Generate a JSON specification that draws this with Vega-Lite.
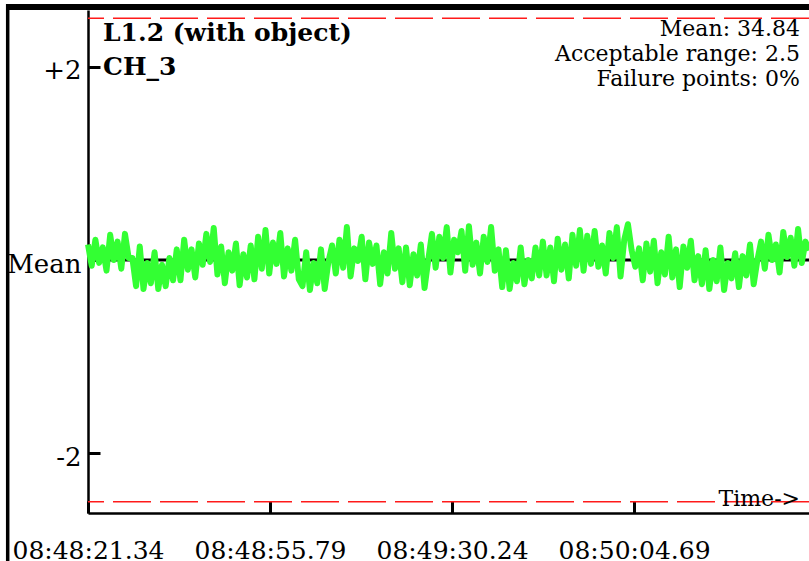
{
  "$schema": "https://vega.github.io/schema/vega-lite/v6.json",
  "width": 721,
  "height": 503,
  "autosize": {"type": "none"},
  "padding": {"left": 88, "top": 10, "right": 0, "bottom": 48},
  "background": "white",
  "config": {
    "view": {"stroke": null},
    "font": "DejaVu Serif",
    "text": {"font": "DejaVu Serif", "color": "black"},
    "axis": {
      "grid": false,
      "labelFont": "DejaVu Serif", "labelFontSize": 25, "labelColor": "black",
      "labelFlush": false, "labelOverlap": false,
      "tickSize": -12, "tickWidth": 3, "tickColor": "black",
      "domainColor": "black", "domainWidth": 2.5
    }
  },
  "datasets": {
    "signal": [
      {"s":0,"v":0.16},{"s":0.7,"v":-0.06},{"s":1.4,"v":0.21},{"s":2.1,"v":-0.03},{"s":2.8,"v":0.13},{"s":3.5,"v":-0.11},{"s":4.2,"v":0.26},{"s":4.9,"v":0.00},{"s":5.6,"v":0.19},{"s":6.3,"v":-0.09},
      {"s":7,"v":0.27},{"s":7.7,"v":0.02},{"s":8.4,"v":0.02},{"s":9.1,"v":-0.27},{"s":9.8,"v":0.14},{"s":10.5,"v":-0.30},{"s":11.2,"v":-0.03},{"s":11.9,"v":-0.24},{"s":12.6,"v":0.08},{"s":13.3,"v":-0.30},
      {"s":14,"v":-0.05},{"s":14.7,"v":-0.27},{"s":15.4,"v":0.02},{"s":16.1,"v":-0.21},{"s":16.8,"v":0.11},{"s":17.5,"v":-0.21},{"s":18.2,"v":0.21},{"s":18.9,"v":-0.10},{"s":19.6,"v":0.11},{"s":20.3,"v":-0.18},
      {"s":21,"v":0.17},{"s":21.7,"v":-0.05},{"s":22.4,"v":0.27},{"s":23.1,"v":-0.02},{"s":23.8,"v":0.33},{"s":24.5,"v":-0.15},{"s":25.2,"v":0.14},{"s":25.9,"v":-0.24},{"s":26.6,"v":0.08},{"s":27.3,"v":-0.11},
      {"s":28,"v":0.17},{"s":28.7,"v":-0.26},{"s":29.4,"v":0.06},{"s":30.1,"v":-0.18},{"s":30.8,"v":0.15},{"s":31.5,"v":-0.20},{"s":32.2,"v":0.24},{"s":32.9,"v":-0.09},{"s":33.6,"v":0.31},{"s":34.3,"v":-0.14},
      {"s":35,"v":0.18},{"s":35.7,"v":-0.04},{"s":36.4,"v":0.28},{"s":37.1,"v":-0.17},{"s":37.8,"v":0.12},{"s":38.5,"v":-0.11},{"s":39.2,"v":0.21},{"s":39.9,"v":-0.20},{"s":40.6,"v":-0.27},{"s":41.3,"v":0.08},
      {"s":42,"v":-0.31},{"s":42.7,"v":-0.03},{"s":43.4,"v":-0.24},{"s":44.1,"v":0.11},{"s":44.8,"v":-0.30},{"s":45.5,"v":-0.02},{"s":46.2,"v":0.15},{"s":46.9,"v":-0.14},{"s":47.6,"v":0.21},{"s":48.3,"v":-0.08},
      {"s":49,"v":0.34},{"s":49.7,"v":-0.17},{"s":50.4,"v":0.12},{"s":51.1,"v":-0.01},{"s":51.8,"v":0.24},{"s":52.5,"v":-0.20},{"s":53.2,"v":0.18},{"s":53.9,"v":-0.04},{"s":54.6,"v":0.15},{"s":55.3,"v":-0.25},
      {"s":56,"v":0.08},{"s":56.7,"v":-0.14},{"s":57.4,"v":0.28},{"s":58.1,"v":-0.09},{"s":58.8,"v":0.12},{"s":59.5,"v":-0.23},{"s":60.2,"v":0.13},{"s":60.9,"v":-0.26},{"s":61.6,"v":0.06},{"s":62.3,"v":-0.16},
      {"s":63,"v":0.16},{"s":63.7,"v":-0.29},{"s":64.4,"v":0.00},{"s":65.1,"v":0.27},{"s":65.8,"v":-0.08},{"s":66.5,"v":0.24},{"s":67.2,"v":0.02},{"s":67.9,"v":0.34},{"s":68.6,"v":-0.13},{"s":69.3,"v":0.21},
      {"s":70,"v":0.08},{"s":70.7,"v":0.30},{"s":71.4,"v":-0.11},{"s":72.1,"v":0.35},{"s":72.8,"v":-0.05},{"s":73.5,"v":0.18},{"s":74.2,"v":-0.14},{"s":74.9,"v":0.24},{"s":75.6,"v":-0.02},{"s":76.3,"v":0.34},
      {"s":77,"v":-0.11},{"s":77.7,"v":0.11},{"s":78.4,"v":-0.28},{"s":79.1,"v":0.10},{"s":79.8,"v":-0.30},{"s":80.5,"v":-0.03},{"s":81.2,"v":-0.22},{"s":81.9,"v":0.13},{"s":82.6,"v":-0.25},{"s":83.3,"v":0.00},
      {"s":84,"v":-0.19},{"s":84.7,"v":0.13},{"s":85.4,"v":-0.16},{"s":86.1,"v":0.19},{"s":86.8,"v":-0.16},{"s":87.5,"v":0.13},{"s":88.2,"v":-0.22},{"s":88.9,"v":0.22},{"s":89.6,"v":-0.10},{"s":90.3,"v":0.16},
      {"s":91,"v":-0.19},{"s":91.7,"v":0.26},{"s":92.4,"v":-0.06},{"s":93.1,"v":0.31},{"s":93.8,"v":-0.11},{"s":94.5,"v":0.25},{"s":95.2,"v":-0.04},{"s":95.9,"v":0.30},{"s":96.6,"v":-0.07},{"s":97.3,"v":0.15},
      {"s":98,"v":-0.14},{"s":98.7,"v":0.28},{"s":99.4,"v":0.02},{"s":100.1,"v":0.34},{"s":100.8,"v":-0.17},{"s":101.5,"v":0.21},{"s":102.2,"v":0.37},{"s":102.9,"v":0.10},{"s":103.6,"v":-0.07},{"s":104.3,"v":0.12},
      {"s":105,"v":-0.21},{"s":105.7,"v":0.17},{"s":106.4,"v":-0.12},{"s":107.1,"v":0.20},{"s":107.8,"v":-0.24},{"s":108.5,"v":0.08},{"s":109.2,"v":-0.15},{"s":109.9,"v":0.24},{"s":110.6,"v":-0.18},{"s":111.3,"v":0.11},
      {"s":112,"v":-0.28},{"s":112.7,"v":0.14},{"s":113.4,"v":-0.08},{"s":114.1,"v":0.20},{"s":114.8,"v":-0.21},{"s":115.5,"v":0.04},{"s":116.2,"v":-0.25},{"s":116.9,"v":0.10},{"s":117.6,"v":-0.30},{"s":118.3,"v":0.00},
      {"s":119,"v":-0.22},{"s":119.7,"v":0.13},{"s":120.4,"v":-0.31},{"s":121.1,"v":-0.03},{"s":121.8,"v":-0.19},{"s":122.5,"v":0.07},{"s":123.2,"v":-0.28},{"s":123.9,"v":0.04},{"s":124.6,"v":-0.16},{"s":125.3,"v":0.16},
      {"s":126,"v":-0.25},{"s":126.7,"v":0.00},{"s":127.4,"v":0.19},{"s":128.1,"v":-0.09},{"s":128.8,"v":0.26},{"s":129.5,"v":0.00},{"s":130.2,"v":0.16},{"s":130.9,"v":-0.13},{"s":131.6,"v":0.29},{"s":132.3,"v":0.03},
      {"s":133,"v":0.23},{"s":133.7,"v":-0.06},{"s":134.4,"v":0.32},{"s":135.1,"v":-0.03},{"s":135.8,"v":0.19},{"s":136.5,"v":0.10}
    ],
    "limits": [{"limit": 2.5}, {"limit": -2.5}],
    "one": [{}]
  },
  "layer": [
    {
      "data": {"name": "one"},
      "mark": {"type": "rule", "color": "black", "strokeWidth": 6},
      "encoding": {
        "x": {"datum": -15.2, "type": "quantitative"},
        "x2": {"datum": 136.47},
        "y": {"datum": 2.615, "type": "quantitative"}
      }
    },
    {
      "data": {"name": "one"},
      "mark": {"type": "rule", "color": "black", "strokeWidth": 3.5},
      "encoding": {
        "x": {"datum": -15.2, "type": "quantitative"},
        "y": {"datum": 2.646, "type": "quantitative"},
        "y2": {"datum": -3.11}
      }
    },
    {
      "data": {"name": "limits"},
      "mark": {"type": "rule", "color": "#ff1a1a", "strokeWidth": 1.5, "strokeDash": [38, 9]},
      "encoding": {
        "y": {"field": "limit", "type": "quantitative"}
      }
    },
    {
      "data": {"name": "one"},
      "mark": {"type": "rule", "color": "black", "strokeWidth": 3},
      "encoding": {
        "y": {"datum": 0, "type": "quantitative"}
      }
    },
    {
      "data": {"name": "signal"},
      "mark": {"type": "line", "color": "#33ff33", "strokeWidth": 6, "strokeJoin": "round"},
      "encoding": {
        "x": {
          "field": "s", "type": "quantitative",
          "scale": {"domain": [0, 136.47], "nice": false, "zero": false},
          "axis": {
            "title": null,
            "values": [0, 34.45, 68.9, 103.35],
            "labelExpr": "['08:48:21.34','08:48:55.79','08:49:30.24','08:50:04.69'][round(datum.value/34.45)]",
            "labelPadding": 37
          }
        },
        "y": {
          "field": "v", "type": "quantitative",
          "scale": {"domain": [-2.615, 2.584], "nice": false, "zero": false},
          "axis": {
            "title": null,
            "values": [-2, 0, 2],
            "labelExpr": "datum.value == 0 ? 'Mean' : (datum.value > 0 ? '+' + datum.value : '' + datum.value)",
            "labelPadding": 19,
            "labelOffset": 4,
            "labelFontSize": 26
          }
        }
      }
    },
    {
      "data": {"name": "one"},
      "mark": {"type": "text", "align": "left", "baseline": "alphabetic", "fontSize": 25, "fontWeight": "bold"},
      "encoding": {
        "x": {"datum": 2.84, "type": "quantitative"},
        "y": {"datum": 2.264, "type": "quantitative"},
        "text": {"value": "L1.2 (with object)"}
      }
    },
    {
      "data": {"name": "one"},
      "mark": {"type": "text", "align": "left", "baseline": "alphabetic", "fontSize": 25, "fontWeight": "bold"},
      "encoding": {
        "x": {"datum": 2.84, "type": "quantitative"},
        "y": {"datum": 1.912, "type": "quantitative"},
        "text": {"value": "CH_3"}
      }
    },
    {
      "data": {"name": "one"},
      "mark": {"type": "text", "align": "right", "baseline": "alphabetic", "fontSize": 22},
      "encoding": {
        "x": {"datum": 134.77, "type": "quantitative"},
        "y": {"datum": 2.315, "type": "quantitative"},
        "text": {"value": "Mean: 34.84"}
      }
    },
    {
      "data": {"name": "one"},
      "mark": {"type": "text", "align": "right", "baseline": "alphabetic", "fontSize": 22},
      "encoding": {
        "x": {"datum": 134.77, "type": "quantitative"},
        "y": {"datum": 2.057, "type": "quantitative"},
        "text": {"value": "Acceptable range: 2.5"}
      }
    },
    {
      "data": {"name": "one"},
      "mark": {"type": "text", "align": "right", "baseline": "alphabetic", "fontSize": 22},
      "encoding": {
        "x": {"datum": 134.77, "type": "quantitative"},
        "y": {"datum": 1.798, "type": "quantitative"},
        "text": {"value": "Failure points: 0%"}
      }
    },
    {
      "data": {"name": "one"},
      "mark": {"type": "text", "align": "right", "baseline": "alphabetic", "fontSize": 22},
      "encoding": {
        "x": {"datum": 134.77, "type": "quantitative"},
        "y": {"datum": -2.543, "type": "quantitative"},
        "text": {"value": "Time->"}
      }
    }
  ]
}
